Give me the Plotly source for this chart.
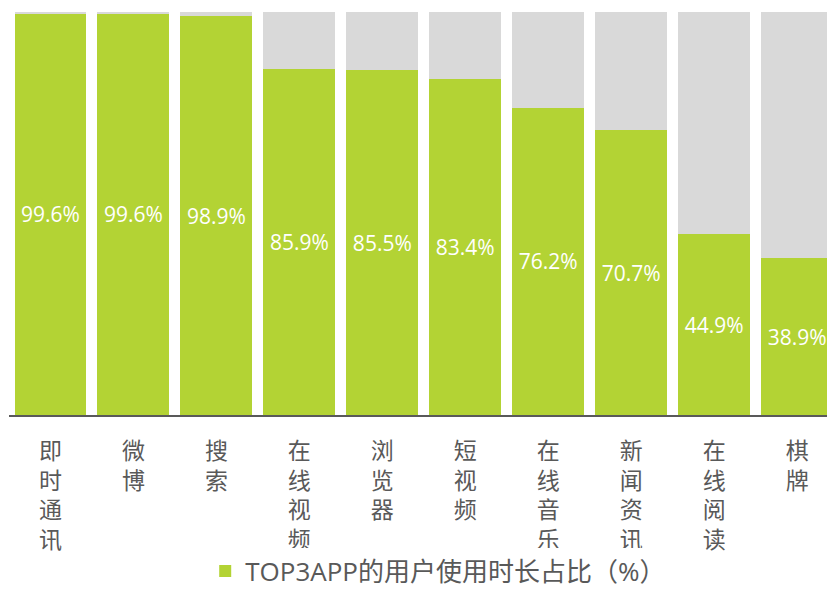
import plotly.graph_objects as go

categories = ["即时通讯", "微博", "搜索", "在线视频", "浏览器", "短视频", "在线音乐", "新闻资讯", "在线阅读", "棋牌"]
share = [99.6, 99.6, 98.9, 85.9, 85.5, 83.4, 76.2, 70.7, 44.9, 38.9]
total = 100.0
rest = [round(total - v, 1) for v in share]
series_name = "TOP3APP的用户使用时长占比（%）"

tick_text = ["<br>".join(list(c)) for c in categories]
xs = list(range(len(categories)))

GREEN = "#B3D334"
GREY = "#D9D9D9"
TXT = "#595959"
FONT = "Segoe UI, Open Sans, Noto Sans CJK SC, sans-serif"

fig = go.Figure()
fig.add_trace(go.Bar(
    x=xs, y=share, name=series_name, marker=dict(color=GREEN, line=dict(width=0)),
    text=[f"{v:.1f}%" for v in share], textposition="inside", insidetextanchor="middle",
    textangle=0, textfont=dict(color="white", size=21, family=FONT), cliponaxis=True,
))
fig.add_trace(go.Bar(
    x=xs, y=rest, name="其他", showlegend=False,
    marker=dict(color=GREY, line=dict(width=0)), hoverinfo="skip",
))

fig.update_layout(
    width=827, height=591,
    barmode="stack", bargap=0.133,
    plot_bgcolor="white", paper_bgcolor="white",
    margin=dict(l=8.5, r=0, t=12, b=176),
    font=dict(family=FONT, color=TXT),
    uniformtext=dict(minsize=8, mode="show"),
    showlegend=True,
    legend=dict(orientation="h", xref="paper", yref="container",
                x=0.5247, xanchor="center", y=1 - 571 / 591, yanchor="middle",
                font=dict(size=26, color=TXT, family=FONT), itemwidth=30),
    xaxis=dict(
        tickmode="array", tickvals=xs, ticktext=tick_text, range=[-0.5, 9.36],
        showline=True, linecolor="#595959", linewidth=2, showgrid=False, zeroline=False,
        ticks="outside", ticklen=14, tickcolor="rgba(0,0,0,0)", automargin=False,
        tickfont=dict(size=23, color=TXT, family=FONT),
    ),
    yaxis=dict(range=[0, 100], visible=False, showgrid=False, zeroline=False),
)

fig.write_html("out.html", config={"displayModeBar": False},
               post_script="document.body.style.margin='0';")
